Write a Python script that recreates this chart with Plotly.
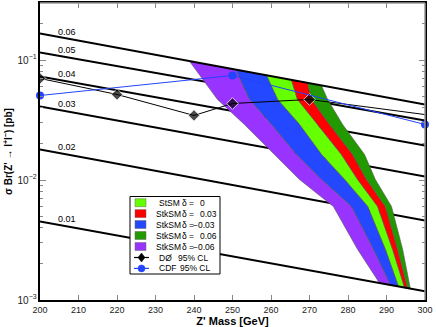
import numpy as np
import plotly.graph_objects as go

# lignes epsilon : sigma*Br a 200 et 300 GeV
eps_labels = ["0.06", "0.05", "0.04", "0.03", "0.02", "0.01"]
eps_sig_200 = [0.166, 0.1155, 0.0729, 0.0410, 0.01795, 0.00451]
eps_sig_300 = [0.0426, 0.0313, 0.0194, 0.0107, 0.00460, 0.00118]
eps_mass = [200, 300]

# limites experimentales
d0_mass = [200, 220, 240, 250, 270, 300]
d0_sig = [0.0702, 0.0516, 0.0345, 0.0434, 0.0469, 0.0351]
cdf_mass = [200, 250, 300]
cdf_sig = [0.0506, 0.0743, 0.0290]

# bords des bandes (du haut = ligne 0.06 vers le bas = ligne 0.01)
row_sig = [0.0469, 0.0290, 0.0163, 0.0101, 0.00602, 0.00264]
edge_top = [0.0979, 0.0831, 0.0746, 0.0683, 0.0645, 0.0614]
edge_bot = [0.001382, 0.001331, 0.001295, 0.001267, 0.001253, 0.001242]
edge_mass = [
    [238.8, 246.1, 253.1, 260.9, 267.4, 276.2, 282.5, 288.2],
    [250.8, 254.4, 260.1, 266.6, 273.1, 280.9, 286.6, 291.0],
    [258.8, 261.7, 267.4, 273.1, 279.1, 285.1, 289.7, 293.1],
    [265.3, 266.9, 272.1, 278.3, 282.5, 287.7, 291.6, 294.7],
    [269.5, 270.5, 275.2, 281.2, 284.8, 289.7, 292.9, 295.5],
    [273.1, 274.7, 278.6, 284.3, 287.1, 291.3, 294.2, 296.2],
]
# bande = (bord gauche, bord droit, nom, delta, couleur)
bands = [
    (2, 3, "StSM", "0", "#66ff00"),
    (3, 4, "StkSM", "0.03", "#ff0000"),
    (1, 2, "StkSM", "−0.03", "#2448ff"),
    (4, 5, "StkSM", "0.06", "#229900"),
    (0, 1, "StkSM", "−0.06", "#9933ff"),
]

FONT = "Liberation Sans, Arial, sans-serif"
fig = go.Figure()


def eps_trace(i):
    return go.Scatter(x=eps_mass, y=[eps_sig_200[i], eps_sig_300[i]], mode="lines",
                      line=dict(color="black", width=2), showlegend=False, hoverinfo="skip")


# lignes interieures sous les bandes
for i in range(1, 5):
    fig.add_trace(eps_trace(i))

for l, r, name, d, col in bands:
    ys = [edge_top[l]] + row_sig + [edge_bot[l]]
    yr = [edge_top[r]] + row_sig + [edge_bot[r]]
    fig.add_trace(go.Scatter(x=edge_mass[l] + edge_mass[r][::-1], y=ys + yr[::-1],
                             fill="toself", fillcolor=col, mode="lines",
                             line=dict(color="#555555", width=0.6), showlegend=False))

for i in (0, 5):
    fig.add_trace(eps_trace(i))

fig.add_trace(go.Scatter(x=d0_mass, y=d0_sig, mode="lines+markers",
                         line=dict(color="black", width=1),
                         marker=dict(symbol="diamond", size=[9, 9, 9, 9, 9, 0], color="black"),
                         showlegend=False))
fig.add_trace(go.Scatter(x=cdf_mass, y=cdf_sig, mode="lines+markers",
                         line=dict(color="#2244ff", width=1),
                         marker=dict(symbol="circle", size=8, color="#2244ff"),
                         showlegend=False, cliponaxis=False))

# etiquettes des lignes epsilon
for i, lab in enumerate(eps_labels):
    s = 10 ** (np.log10(eps_sig_200[i]) + (np.log10(eps_sig_300[i]) - np.log10(eps_sig_200[i])) * 0.07)
    fig.add_annotation(x=207, y=np.log10(s), text=lab, showarrow=False, yshift=7,
                       font=dict(size=9, color="black", family=FONT))

# legende dessinee a la main
L, T, W, H = 40, 3, 385, 297


def px(x):
    return (x - L) / W


def py(y):
    return (T + H - y) / H


shapes = [dict(type="rect", xref="paper", yref="paper", x0=px(130), x1=px(220), y0=py(196.5), y1=py(274),
               line=dict(color="black", width=1), fillcolor="white", layer="above")]
annots = []
rows = [202.7, 213.6, 224.5, 235.5, 246.5, 257.5, 268.4]
for k, (l, r, name, d, col) in enumerate(bands):
    y = rows[k]
    shapes.append(dict(type="rect", xref="paper", yref="paper", x0=px(135), x1=px(146), y0=py(y + 4), y1=py(y - 4),
                       line=dict(color="#666", width=0.5), fillcolor=col, layer="above"))
    annots.append(dict(x=px(157 if name == "StSM" else 154), y=py(y), text=name))
    annots.append(dict(x=px(179.5), y=py(y), text="δ ="))
    if d.startswith("−"):
        annots.append(dict(x=px(217), y=py(y), text=d, xanchor="right"))
    else:
        annots.append(dict(x=px(198), y=py(y), text=d))

for k, (name, col, sym, tx) in enumerate([("DØ", "black", "d", 176), ("CDF", "#2244ff", "c", 177.5)]):
    y = rows[5 + k]
    shapes.append(dict(type="line", xref="paper", yref="paper", x0=px(134), x1=px(149), y0=py(y), y1=py(y),
                       line=dict(color=col, width=1.2), layer="above"))
    if sym == "d":
        path = "M {} {} L {} {} L {} {} L {} {} Z".format(px(141.5), py(y - 4.5), px(145), py(y),
                                                          px(141.5), py(y + 4.5), px(138), py(y))
        shapes.append(dict(type="path", xref="paper", yref="paper", path=path, fillcolor=col,
                           line=dict(color=col, width=0.5), layer="above"))
    else:
        shapes.append(dict(type="circle", xref="paper", yref="paper", x0=px(138), x1=px(145),
                           y0=py(y + 3.5), y1=py(y - 3.5), fillcolor=col, line=dict(color=col, width=0.5),
                           layer="above"))
    annots.append(dict(x=px(157), y=py(y), text=name))
    annots.append(dict(x=px(tx), y=py(y), text="95% CL"))

for a in annots:
    fig.add_annotation(xref="paper", yref="paper", showarrow=False, xanchor=a.get("xanchor", "left"),
                       yanchor="middle", x=a["x"], y=a["y"], text=a["text"],
                       font=dict(size=8.5, color="black", family=FONT))

# cadre haut / droit gris
shapes.append(dict(type="line", xref="paper", yref="paper", x0=0, x1=1, y0=1, y1=1,
                   line=dict(color="#999", width=1.5), layer="above"))
shapes.append(dict(type="line", xref="paper", yref="paper", x0=1, x1=1, y0=0, y1=1,
                   line=dict(color="#999", width=1.5), layer="above"))

fig.update_layout(
    width=436, height=327, margin=dict(l=L, r=436 - L - W, t=T, b=327 - T - H),
    paper_bgcolor="white", plot_bgcolor="white", showlegend=False,
    font=dict(family=FONT, size=9, color="#222"), shapes=shapes,
)
fig.update_xaxes(range=[200, 300], dtick=10, tick0=200, ticks="inside", ticklen=5, tickcolor="#888",
                 showline=True, linecolor="black", linewidth=1.5, mirror="ticks", showgrid=False,
                 zeroline=False, automargin=False, tickfont=dict(size=9, color="#222"),
                 title=dict(text="<b>Z' Mass [GeV]</b>", font=dict(size=11, color="black"), standoff=3))
fig.update_yaxes(type="log", range=[-3, -0.525], dtick=1, exponentformat="power", ticks="inside",
                 ticklen=6, tickcolor="#888", showline=True, linecolor="black", linewidth=1.5,
                 mirror="ticks", showgrid=False, zeroline=False, automargin=False,
                 tickfont=dict(size=8, color="#222"),
                 minor=dict(ticks="inside", ticklen=3, dtick="D1", tickcolor="#888", showgrid=False),
                 title=dict(text="<b>σ Br(Z' → l<sup>+</sup>l<sup>−</sup>) [pb]</b>",
                            font=dict(size=10, color="black"), standoff=3))

fig.write_html("out.html", config={"displayModeBar": False},
               post_script="document.body.style.margin='0';")
